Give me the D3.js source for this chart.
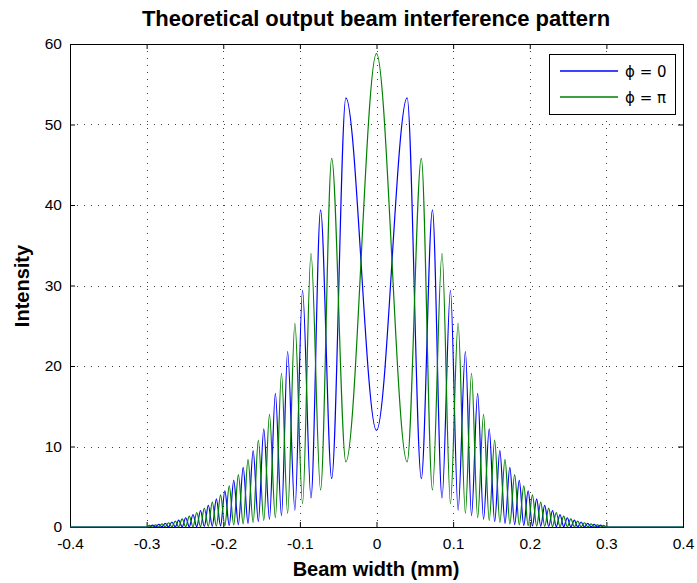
<!DOCTYPE html>
<html><head><meta charset="utf-8">
<script src="https://cdn.jsdelivr.net/npm/d3@7/dist/d3.min.js"></script>
<style>body{margin:0;background:#fff}</style>
</head><body>
<svg id="chart" width="697" height="583"></svg>
<script>
// ---- data ----
const xTicks = [-0.4, -0.3, -0.2, -0.1, 0, 0.1, 0.2, 0.3, 0.4];
const yTicks = [0, 10, 20, 30, 40, 50, 60];
const seriesNames = ["\u03d5 = 0", "\u03d5 = \u03c0"];
// positions of fringe extrema for x >= 0 (pattern is symmetric about 0)
const fringeX = [0, 0.0400, 0.0585, 0.0730, 0.0855, 0.0965, 0.1065, 0.1160, 0.1240, 0.1320,
  0.1397, 0.1471, 0.1542, 0.1610, 0.1677, 0.1740, 0.1803, 0.1863, 0.1922, 0.1979,
  0.2035, 0.2090, 0.2143, 0.2195, 0.2247, 0.2297, 0.2346, 0.2395, 0.2443, 0.2490,
  0.2536, 0.2582, 0.2626, 0.2670, 0.2714, 0.2757, 0.2800, 0.2842, 0.2883, 0.2924, 0.2965];
// phi = 0 intensity at each extremum
const blueHalf = [12.0, 53.3, 6.0, 39.4, 3.6, 29.4, 2.1, 21.8, 1.4, 16.6,
  0.95, 12.2, 0.65, 9.5, 0.45, 7.4, 0.3, 5.8, 0.2, 4.5,
  0.13, 3.5, 0.09, 2.7, 0.06, 2.05, 0.04, 1.55, 0.03, 1.15,
  0.02, 0.85, 0.01, 0.62, 0.01, 0.45, 0.01, 0.32, 0, 0.23, 0];
// phi = pi intensity at each extremum
const greenHalf = [58.8, 8.1, 45.8, 4.6, 34.0, 2.9, 25.3, 1.7, 19.1, 1.15,
  14.0, 0.8, 10.8, 0.55, 8.4, 0.38, 6.5, 0.25, 5.1, 0.16,
  4.0, 0.11, 3.1, 0.07, 2.35, 0.05, 1.8, 0.03, 1.35, 0.02,
  1.0, 0.02, 0.72, 0.01, 0.53, 0.01, 0.38, 0.01, 0.27, 0, 0.19];
const apertureEdge = 0.3;
const seriesColors = ["#0000ff", "#008000"];

// ---- layout ----
const W = 697, H = 583;
const L = 70, R = 683, T = 44, B = 527;
const svg = d3.select("#chart");
svg.append("rect").attr("width", W).attr("height", H).attr("fill", "#fff");

const x = d3.scaleLinear().domain([-0.4, 0.4]).range([L, R]);
const y = d3.scaleLinear().domain([0, 60]).range([B, T]);

const tickFont = "'Liberation Sans',Arial,sans-serif";
const boldFont = "'Liberation Sans',Arial,Helvetica,sans-serif";

// grid
const grid = svg.append("g").attr("stroke", "#000").attr("stroke-width", 1)
  .attr("stroke-dasharray", "1,6").attr("opacity", 0.75);
grid.selectAll("line.v").data(xTicks.slice(1, -1)).join("line")
  .attr("x1", d => Math.round(x(d)) + 0.5).attr("x2", d => Math.round(x(d)) + 0.5)
  .attr("y1", T).attr("y2", B);
grid.selectAll("line.h").data(yTicks.slice(1, -1)).join("line")
  .attr("y1", d => Math.round(y(d)) + 0.5).attr("y2", d => Math.round(y(d)) + 0.5)
  .attr("x1", L).attr("x2", R);

// axes
const fmt = d => d === 0 ? "0" : d3.format(".1f")(d).replace("\u2212", "-");
function styleAxis(g) {
  g.selectAll(".domain").remove();
  g.selectAll("line").attr("stroke", "#000");
  g.selectAll("text").attr("font-family", tickFont).attr("font-size", 15.5).attr("fill", "#000");
}
svg.append("g").attr("transform", `translate(0,${B})`)
  .call(d3.axisBottom(x).tickValues(xTicks).tickFormat(fmt).tickSizeInner(-5).tickSizeOuter(0).tickPadding(11))
  .call(styleAxis);
svg.append("g").attr("transform", `translate(0,${T})`)
  .call(d3.axisTop(x).tickValues(xTicks).tickFormat("").tickSizeInner(-5).tickSizeOuter(0))
  .call(styleAxis);
svg.append("g").attr("transform", `translate(${L},0)`)
  .call(d3.axisLeft(y).tickValues(yTicks).tickFormat(d3.format("d")).tickSizeInner(-5).tickSizeOuter(0).tickPadding(8))
  .call(styleAxis);
svg.append("g").attr("transform", `translate(${R},0)`)
  .call(d3.axisRight(y).tickValues(yTicks).tickFormat("").tickSizeInner(-5).tickSizeOuter(0))
  .call(styleAxis);
svg.append("rect").attr("x", L + 0.5).attr("y", T + 0.5).attr("width", R - L).attr("height", B - T)
  .attr("fill", "none").attr("stroke", "#000").attr("stroke-width", 1);

// series
function buildSeries(half) {
  const pts = [[-0.4, 0], [-apertureEdge, 0]];
  for (let i = fringeX.length - 1; i >= 1; i--) pts.push([-fringeX[i], half[i]]);
  for (let i = 0; i < fringeX.length; i++) pts.push([fringeX[i], half[i]]);
  pts.push([apertureEdge, 0], [0.4, 0]);
  return pts;
}
const series = [buildSeries(blueHalf), buildSeries(greenHalf)];
const line = d3.line().x(d => x(d[0])).y(d => y(d[1])).curve(d3.curveMonotoneX);
svg.append("defs").append("clipPath").attr("id", "clip")
  .append("rect").attr("x", L).attr("y", T - 1).attr("width", R - L + 1).attr("height", B - T + 2);
svg.append("g").attr("clip-path", "url(#clip)")
  .selectAll("path").data(series).join("path")
  .attr("d", line).attr("fill", "none")
  .style("stroke", (d, i) => seriesColors[i]).attr("stroke-width", 1.2);

// legend
const lg = svg.append("g");
lg.append("rect").attr("x", 549.5).attr("y", 54.5).attr("width", 126).attr("height", 60)
  .attr("fill", "#fff").attr("stroke", "#000");
seriesNames.forEach((name, i) => {
  const yy = 71 + i * 26;
  lg.append("line").attr("x1", 560).attr("x2", 618).attr("y1", yy).attr("y2", yy)
    .style("stroke", seriesColors[i]).style("stroke-width", 1.5);
  lg.append("text").attr("x", 625).attr("y", yy + 6).text(name)
    .attr("font-family", "'DejaVu Sans','Liberation Sans',sans-serif").attr("font-size", 15).attr("fill", "#000");
});

// titles
svg.append("text").attr("x", 376).attr("y", 26).attr("text-anchor", "middle")
  .attr("font-family", boldFont).attr("font-weight", "bold").attr("font-size", 22)
  .text("Theoretical output beam interference pattern");
svg.append("text").attr("x", 376).attr("y", 576).attr("text-anchor", "middle")
  .attr("font-family", boldFont).attr("font-weight", "bold").attr("font-size", 20)
  .text("Beam width (mm)");
svg.append("text").attr("transform", "translate(29,286) rotate(-90)").attr("text-anchor", "middle")
  .attr("font-family", boldFont).attr("font-weight", "bold").attr("font-size", 20)
  .text("Intensity");
</script>
</body></html>
